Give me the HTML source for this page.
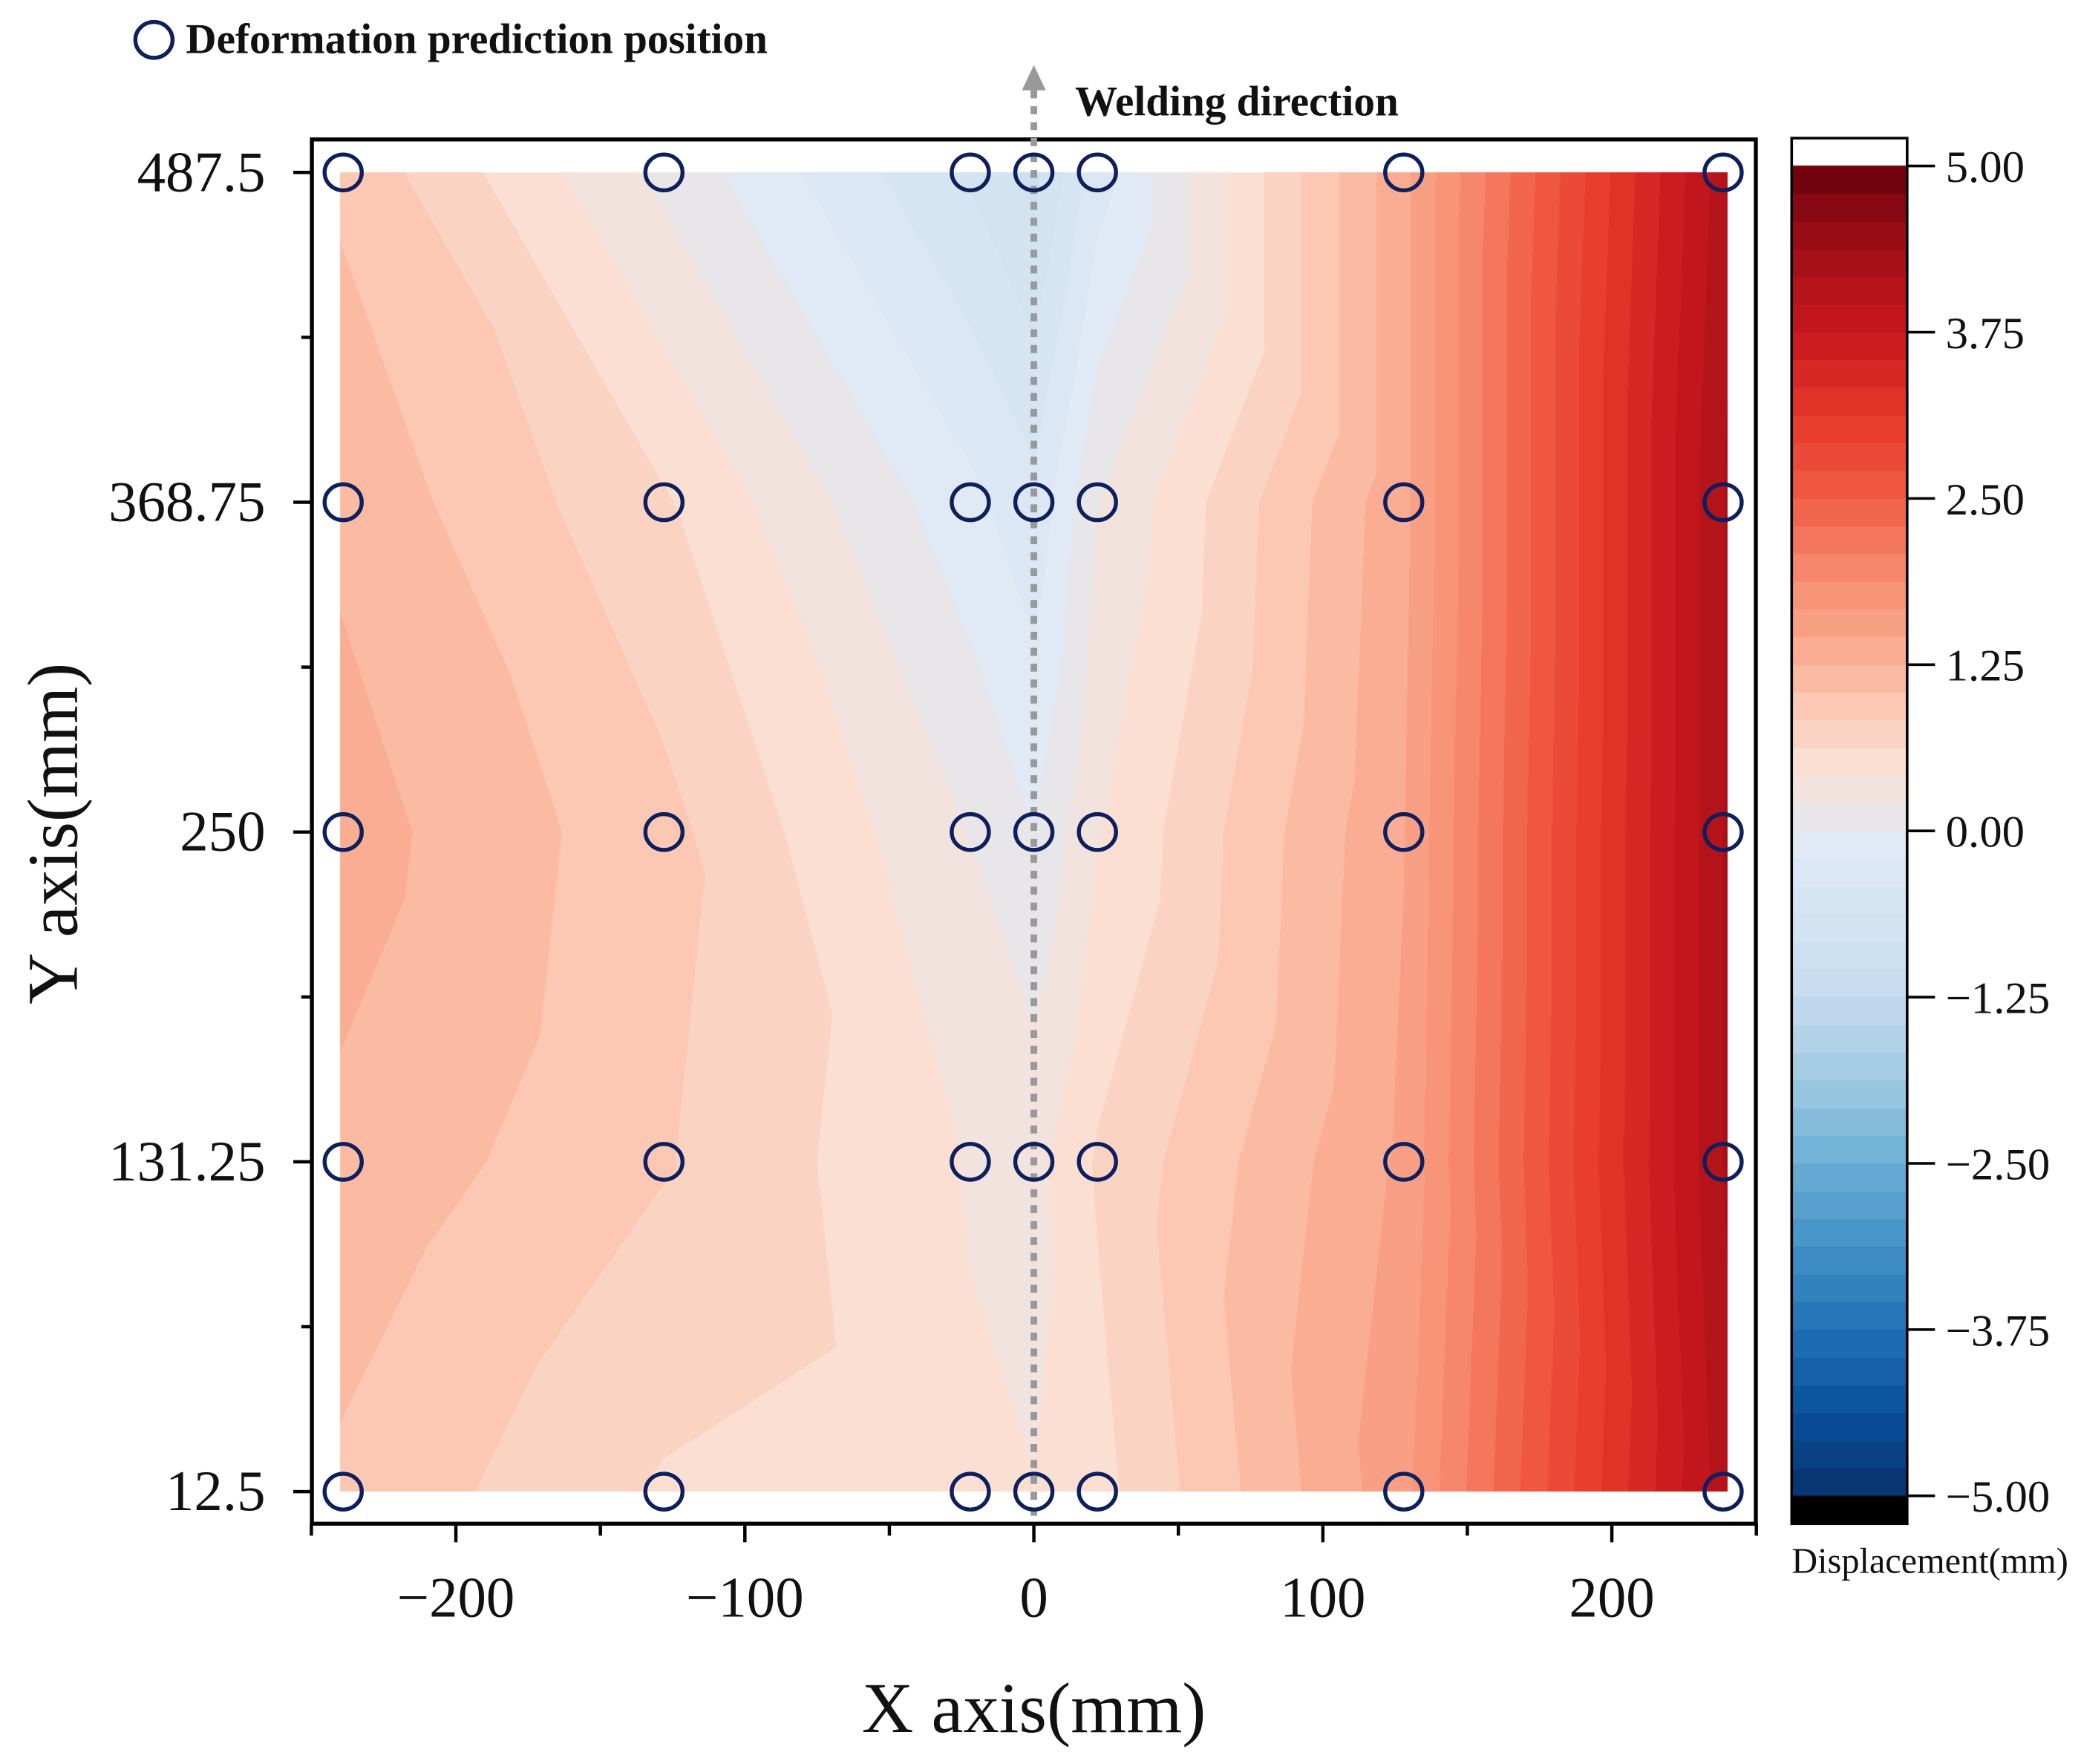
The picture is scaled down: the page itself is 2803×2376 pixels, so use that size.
<!DOCTYPE html>
<html><head><meta charset="utf-8">
<style>
html,body{margin:0;padding:0;background:#fff;}
#wrap{position:relative;width:2803px;height:2376px;overflow:hidden;}
#cv{position:absolute;left:0;top:0;}
#sv{position:absolute;left:0;top:0;}
text{font-family:"Liberation Serif",serif;fill:#111;}
</style></head>
<body>
<div id="wrap">
<canvas id="cv" width="2803" height="2376"></canvas>
<svg id="sv" width="2803" height="2376" viewBox="0 0 1568 1329"></svg>
</div>
<script>
// ---- data ----
const xPositions = [-240, -128, -22, 0, 22, 128, 240];
const yPositions = [12.5, 131.25, 250, 368.75, 487.5];
const row12 = [1.0, 0.6, 0.45, 0.42, 0.55, 1.6, 4.1];
const row131 = [1.2, 0.85, 0.4, 0.35, 0.65, 1.5, 4.2];
const row250 = [1.35, 0.9, 0.2, 0.0, 0.4, 1.45, 4.2];
const row368 = [1.2, 0.65, -0.15, -0.35, 0.2, 1.4, 4.2];
const row487 = [1.0, 0.15, -0.65, -0.9, -0.3, 1.4, 4.1];
const xTicks = [-200, -100, 0, 100, 200];
const xMinor = [-150, -50, 50, 150];
const yTicks = [12.5, 131.25, 250, 368.75, 487.5];
const yTickLabels = ["12.5", "131.25", "250", "368.75", "487.5"];
const yMinor = [71.875, 190.625, 309.375, 428.125];
const cbTicks = [5, 3.75, 2.5, 1.25, 0, -1.25, -2.5, -3.75, -5];
const cbTickLabels = ["5.00", "3.75", "2.50", "1.25", "0.00", "\u22121.25", "\u22122.50", "\u22123.75", "\u22125.00"];

const rows = [row12, row131, row250, row368, row487];
const S = 2803 / 1568;
const NL = 48, VMIN = -5, VMAX = 5;

function X(x) { return 779 + x * 2.1775; }
function Y(y) { return 1150 - y * 2.0926; }
function iX(px) { return (px - 779) / 2.1775; }
function iY(py) { return (1150 - py) / 2.0926; }
function CB(v) { return 125 + (VMAX - v) / (VMAX - VMIN) * 1002; }

function hx(h) { return [parseInt(h.substr(1,2),16),parseInt(h.substr(3,2),16),parseInt(h.substr(5,2),16)]; }
const stopVals = [-5, -4.375, -3.75, -3.125, -2.5, -1.875, -1.25, -0.625, -0.1, 0.1, 0.5, 1.0, 1.5, 2.0, 2.5, 3.125, 3.75, 4.375, 5];
const stopCols = ["#08306b","#08519c","#2171b5","#4292c6","#6baed6","#9ecae1","#c6dbef","#d4e4f3","#e0e9f4","#e8e6e8","#fbe0d5","#fcc4ae","#f9a487","#f7866b","#f05d45","#e7372a","#c8171d","#a20f16","#67000d"].map(hx);
function cmapV(v) {
  if (v <= stopVals[0]) return stopCols[0];
  for (let i = 0; i < stopVals.length - 1; i++) {
    if (v <= stopVals[i+1]) {
      const f = (v - stopVals[i]) / (stopVals[i+1] - stopVals[i]);
      const a = stopCols[i], b = stopCols[i+1];
      return [0,1,2].map(k => Math.round(a[k] + (b[k]-a[k]) * f));
    }
  }
  return stopCols[stopCols.length-1];
}
function bandCenter(idx) { return VMIN + (idx + 0.5) * (VMAX - VMIN) / NL; }
function levelColor(v) {
  let idx = Math.floor((v - VMIN) / (VMAX - VMIN) * NL);
  idx = Math.max(0, Math.min(NL-1, idx));
  return cmapV(bandCenter(idx));
}
function valueAt(x, y) {
  let i = 0; while (i < xPositions.length - 2 && x > xPositions[i+1]) i++;
  let j = 0; while (j < yPositions.length - 2 && y > yPositions[j+1]) j++;
  const tx = Math.max(0, Math.min(1, (x - xPositions[i]) / (xPositions[i+1] - xPositions[i])));
  const ty = Math.max(0, Math.min(1, (y - yPositions[j]) / (yPositions[j+1] - yPositions[j])));
  const a = rows[j][i], b = rows[j][i+1], c = rows[j+1][i], d = rows[j+1][i+1];
  if (tx + ty <= 1) return a + (b - a) * tx + (c - a) * ty;
  return d + (c - d) * (1 - tx) + (b - d) * (1 - ty);
}

// ---- contour canvas ----
const cv = document.getElementById('cv');
const ctx = cv.getContext('2d');
const x0 = Math.round(X(xPositions[0]) * S), x1 = Math.round(X(xPositions[xPositions.length-1]) * S);
const y0 = Math.round(Y(yPositions[yPositions.length-1]) * S), y1 = Math.round(Y(yPositions[0]) * S);
const img = ctx.createImageData(x1 - x0, y1 - y0);
for (let py = y0; py < y1; py++) {
  const dy = iY((py + 0.5) / S);
  for (let px = x0; px < x1; px++) {
    const dx = iX((px + 0.5) / S);
    const c = levelColor(valueAt(dx, dy));
    const o = ((py - y0) * (x1 - x0) + (px - x0)) * 4;
    img.data[o] = c[0]; img.data[o+1] = c[1]; img.data[o+2] = c[2]; img.data[o+3] = 255;
  }
}
ctx.putImageData(img, x0, y0);
for (let k = 0; k < NL; k++) {
  const vTop = VMIN + (k + 1) * (VMAX - VMIN) / NL, vBot = VMIN + k * (VMAX - VMIN) / NL;
  const c = cmapV(bandCenter(k));
  ctx.fillStyle = `rgb(${c[0]},${c[1]},${c[2]})`;
  const ya = Math.floor(CB(vTop) * S), yb = Math.ceil(CB(vBot) * S);
  ctx.fillRect(1350 * S, ya, 87 * S, yb - ya);
}
ctx.fillStyle = '#000';
ctx.fillRect(1350 * S, CB(-5) * S, 87 * S, (1148 - CB(-5)) * S);

// ---- SVG ----
const NS = 'http://www.w3.org/2000/svg';
const sv = document.getElementById('sv');
function el(tag, attrs, parent, text) {
  const e = document.createElementNS(NS, tag);
  for (const k in attrs) e.setAttribute(k, attrs[k]);
  if (text !== undefined) e.textContent = text;
  (parent || sv).appendChild(e);
  return e;
}
const frame = el('rect', {x:235, y:105, width:1088, height:1043, fill:'none', stroke:'#000', 'stroke-width':3});


const cbf = el('rect', {x:1350, y:104, width:87, height:1044, fill:'none', stroke:'#000', 'stroke-width':2});



xTicks.forEach(v => {
  const t = el('line', {x1:X(v), x2:X(v), y1:1148, y2:1162, stroke:'#000', 'stroke-width':2.5});
  
  
  const lb = el('text', {x:X(v), y:1218, 'font-size':43, 'text-anchor':'middle'}, sv, v < 0 ? '\u2212' + (-v) : String(v));
  
  
});
[-250, 250].concat(xMinor).forEach(v => {
  const t = el('line', {x1:X(v), x2:X(v), y1:1148, y2:1157, stroke:'#000', 'stroke-width':2.5});
  
  
});
yTicks.forEach((v, i) => {
  const t = el('line', {x1:221, x2:235, y1:Y(v), y2:Y(v), stroke:'#000', 'stroke-width':2.5});
  
  
  const lb = el('text', {x:200, y:Y(v) + 14, 'font-size':43, 'text-anchor':'end'}, sv, yTickLabels[i]);
  
  
});
yMinor.forEach(v => {
  const t = el('line', {x1:227, x2:235, y1:Y(v), y2:Y(v), stroke:'#000', 'stroke-width':2.5});
  
  
});
cbTicks.forEach((v, i) => {
  const t = el('line', {x1:1437, x2:1458, y1:CB(v), y2:CB(v), stroke:'#000', 'stroke-width':2});
  
  
  const lb = el('text', {x:1466, y:CB(v) + 12, 'font-size':34}, sv, cbTickLabels[i]);
  
  
});
const ar = el('line', {x1:X(0), x2:X(0), y1:1142, y2:64, stroke:'#999', 'stroke-width':5, 'stroke-dasharray':'6 6'});


const ah = el('polygon', {points:`${X(0)-9},68 ${X(0)+9},68 ${X(0)},49`, fill:'#999'});


yPositions.forEach(yv => xPositions.forEach(xv => {
  const xx = xv === -240 ? -239 : (xv === 240 ? 238.5 : xv);
  const c = el('ellipse', {cx:X(xx), cy:Y(yv), rx:14, ry:13.5, fill:'none', stroke:'#0d1f5c', 'stroke-width':3});
  
  
}));
const lc = el('ellipse', {cx:116, cy:30, rx:14, ry:13.5, fill:'none', stroke:'#0d1f5c', 'stroke-width':3});


const lt = el('text', {x:140, y:40, 'font-size':32, 'font-weight':'bold'}, sv, 'Deformation prediction position');


const wd = el('text', {x:810, y:87, 'font-size':32, 'font-weight':'bold'}, sv, 'Welding direction');


const xt = el('text', {x:779, y:1305, 'font-size':54, 'text-anchor':'middle'}, sv, 'X axis(mm)');


const yt = el('text', {x:0, y:0, 'font-size':54, 'text-anchor':'middle', transform:'translate(58,628) rotate(-90)'}, sv, 'Y axis(mm)');


const ct = el('text', {x:1350, y:1185, 'font-size':27}, sv, 'Displacement(mm)');


</script>
</body></html>
